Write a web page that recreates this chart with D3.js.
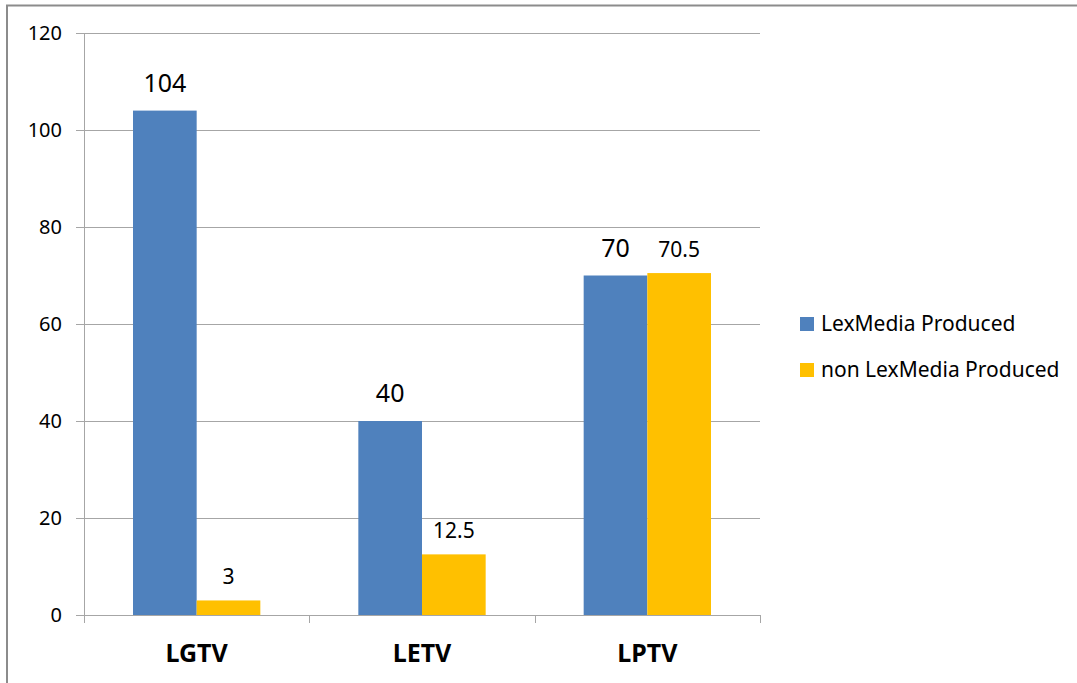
<!DOCTYPE html>
<html>
<head>
<meta charset="utf-8">
<script src="https://cdn.jsdelivr.net/npm/d3@7"></script>
<style>
  body { margin: 0; background: #fff; }
  text { font-family: "Noto Sans", "Open Sans", sans-serif; fill: #000; }
</style>
</head>
<body>
<div id="chart"></div>
<script>
// data
const categories = ["LGTV", "LETV", "LPTV"];
const seriesNames = ["LexMedia Produced", "non LexMedia Produced"];
const lexProduced = [104, 40, 70];
const nonLexProduced = [3, 12.5, 70.5];
const yTicks = [0, 20, 40, 60, 80, 100, 120];

const colors = ["#4f81bd", "#ffc000"];

const svgWidth = 1077;
const svgHeight = 683;
const margin = { top: 33, right: 317, bottom: 68, left: 84 };
const chartWidth = svgWidth - margin.left - margin.right;
const chartHeight = svgHeight - margin.top - margin.bottom;

const svg = d3.select("#chart").append("svg")
    .attr("width", svgWidth)
    .attr("height", svgHeight);

// outer frame (only top and left visible in the crop)
svg.append("line").attr("x1", 6).attr("x2", svgWidth).attr("y1", 5.5).attr("y2", 5.5)
    .attr("stroke", "#8c8c8c").attr("stroke-width", 2);
svg.append("line").attr("x1", 7).attr("x2", 7).attr("y1", 5).attr("y2", svgHeight)
    .attr("stroke", "#8c8c8c").attr("stroke-width", 2);

const chartG = svg.append("g")
    .attr("transform", `translate(${margin.left}, ${margin.top})`);

const y = d3.scaleLinear().domain([0, 120]).range([chartHeight, 0]);
const x = d3.scaleBand().domain(categories).range([0, chartWidth]).paddingInner(0).paddingOuter(0);
const inner = d3.scaleBand().domain([0, 1]).range([49, x.bandwidth() - 49]);

// gridlines + y tick marks
chartG.append("g")
    .selectAll("line")
    .data(yTicks)
    .enter()
    .append("line")
    .attr("x1", -8)
    .attr("x2", chartWidth)
    .attr("y1", d => Math.round(y(d)) + 0.5)
    .attr("y2", d => Math.round(y(d)) + 0.5)
    .attr("stroke", "#a6a6a6")
    .attr("stroke-width", 1);

// y axis line
chartG.append("line")
    .attr("x1", 0.5).attr("x2", 0.5)
    .attr("y1", 0).attr("y2", chartHeight + 8)
    .attr("stroke", "#a6a6a6");

// x tick marks between categories
chartG.append("g")
    .selectAll("line")
    .data(categories)
    .enter()
    .append("line")
    .attr("x1", (d, i) => Math.round(x.bandwidth() * (i + 1)) + 0.5)
    .attr("x2", (d, i) => Math.round(x.bandwidth() * (i + 1)) + 0.5)
    .attr("y1", chartHeight)
    .attr("y2", chartHeight + 8)
    .attr("stroke", "#a6a6a6");

// y tick labels
chartG.append("g")
    .selectAll("text")
    .data(yTicks)
    .enter()
    .append("text")
    .attr("x", -22)
    .attr("y", d => y(d))
    .attr("dy", "0.35em")
    .attr("text-anchor", "end")
    .style("font-size", "20px")
    .text(d => d);

// category labels
chartG.append("g")
    .selectAll("text")
    .data(categories)
    .enter()
    .append("text")
    .attr("x", d => x(d) + x.bandwidth() / 2)
    .attr("y", chartHeight + 47)
    .attr("text-anchor", "middle")
    .style("font-size", "25px")
    .style("font-weight", "bold")
    .text(d => d);

// bars
const seriesData = [lexProduced, nonLexProduced];
seriesData.forEach((values, s) => {
    const g = chartG.append("g");
    g.selectAll("rect")
        .data(values)
        .enter()
        .append("rect")
        .attr("x", (d, i) => x(categories[i]) + inner(s))
        .attr("width", inner.bandwidth())
        .attr("y", d => y(d))
        .attr("height", d => chartHeight - y(d))
        .attr("fill", colors[s]);

    g.selectAll("text")
        .data(values)
        .enter()
        .append("text")
        .attr("x", (d, i) => x(categories[i]) + inner(s) + inner.bandwidth() / 2)
        .attr("y", d => y(d) - (s === 0 ? 19 : 16))
        .attr("text-anchor", "middle")
        .style("font-size", s === 0 ? "25px" : "21px")
        .text(d => d);
});

// legend
const legend = svg.append("g")
    .attr("transform", "translate(800, 324)");

seriesNames.forEach((name, i) => {
    const row = legend.append("g").attr("transform", `translate(0, ${i * 46})`);
    row.append("rect")
        .attr("x", 0).attr("y", -7)
        .attr("width", 14).attr("height", 14)
        .attr("fill", colors[i]);
    row.append("text")
        .attr("x", 21)
        .attr("y", 0)
        .attr("dy", "0.35em")
        .style("font-size", "21px")
        .text(name);
});
</script>
</body>
</html>
